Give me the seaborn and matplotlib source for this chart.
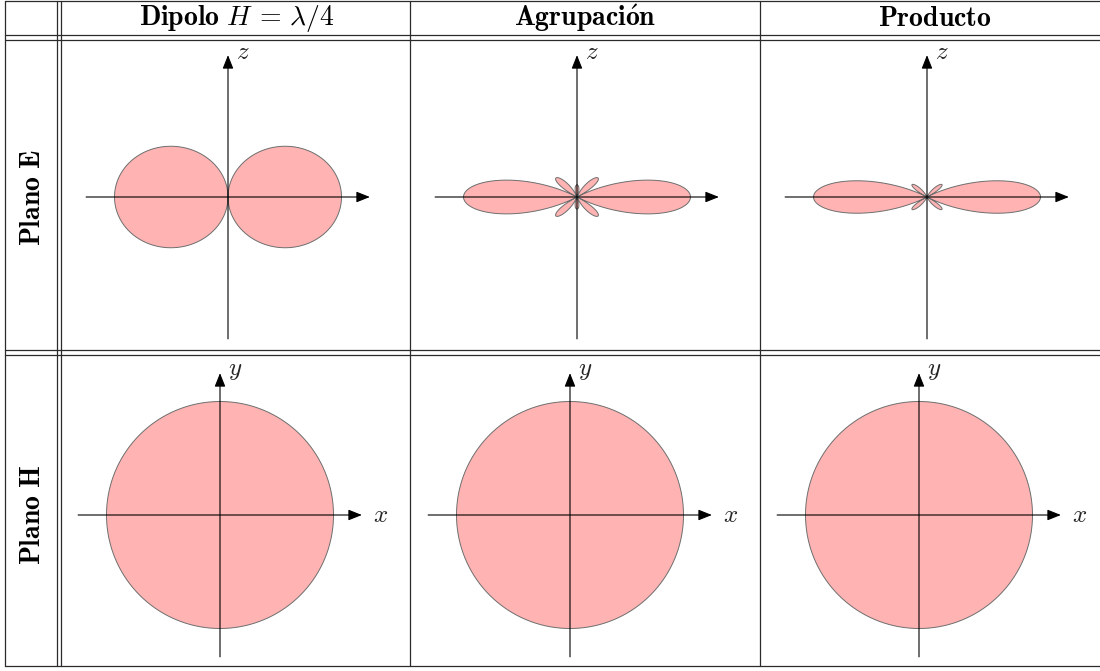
import numpy as np
import matplotlib
matplotlib.use("Agg")
import matplotlib.pyplot as plt
from matplotlib.lines import Line2D
import seaborn as sns

sns.set_theme(style="white")
plt.rcParams["mathtext.fontset"] = "cm"
plt.rcParams["font.family"] = ["DejaVu Serif"]

# ---- table content -------------------------------------------------------
COL_TITLES = [r"$\mathbf{Dipolo}\ H\,=\,\lambda/4$",
              r"$\mathbf{Agrupaci\acute{o}n}$",
              r"$\mathbf{Producto}$"]
ROW_TITLES = [r"$\mathbf{Plano\ E}$", r"$\mathbf{Plano\ H}$"]
# (horizontal axis name, vertical axis name) for each plane
AXIS_NAMES = [("", "z"), ("x", "y")]

# ---- antenna parameters --------------------------------------------------
DIPOLE_ARM = 0.25      # H / lambda
N_ELEMENTS = 5         # elements of the linear array along z
SPACING = 0.435        # d / lambda
ANGLES = np.linspace(0.0, 2.0 * np.pi, 2881)

FILL = "#ffb3b3"
EDGE = "#6e6e6e"
LINE = "#2b2b2b"


def dipole_factor(theta):
    kh = 2 * np.pi * DIPOLE_ARM
    s = np.sin(theta)
    num = np.cos(kh * np.cos(theta)) - np.cos(kh)
    with np.errstate(divide="ignore", invalid="ignore"):
        f = np.where(np.abs(s) < 1e-9, 0.0, num / s)
    return np.abs(f) / (1 - np.cos(kh))


def array_factor(theta):
    psi = 2 * np.pi * SPACING * np.cos(theta)
    den = N_ELEMENTS * np.sin(psi / 2)
    with np.errstate(divide="ignore", invalid="ignore"):
        af = np.where(np.abs(den) < 1e-12, 1.0, np.sin(N_ELEMENTS * psi / 2) / den)
    return np.abs(af)


PATTERNS = [dipole_factor,
            array_factor,
            lambda t: dipole_factor(t) * array_factor(t)]

# ---- figure / layout -----------------------------------------------------
W, H = 1100, 671
fig = plt.figure(figsize=(W / 100, H / 100), dpi=100)
UNIT_PX = 113.5          # pixels for a normalised field of 1
AX_REACH = 1.25          # reach of the drawn axes

COL_LINES = [5, 57, 61, 410, 760]
ROW_LINES = [1, 34.5, 40, 349.5, 354.5, 666]
CENTERS = [[(228, 197), (577, 197), (927, 197)],
           [(220, 515), (570, 515), (919, 515)]]
HEADER_X = [237, 585, 935]
ROW_LABEL_Y = [197, 515]


def px(x, y):
    return x / W, 1 - y / H


def hline(y, x0=5, x1=1100, lw=0.9, color=LINE):
    (a, b), (c, d) = px(x0, y), px(x1, y)
    fig.add_artist(Line2D([a, c], [b, d], lw=lw, color=color))


def vline(x, y0=1, y1=666, lw=0.9, color=LINE):
    (a, b), (c, d) = px(x, y0), px(x, y1)
    fig.add_artist(Line2D([a, c], [b, d], lw=lw, color=color))


for y in ROW_LINES:
    hline(y)
for x in COL_LINES:
    vline(x)

# headers and row labels
for x, t in zip(HEADER_X, COL_TITLES):
    fig.text(*px(x, 25.5), t, ha="center", va="baseline", fontsize=20, color="black")
for y, t in zip(ROW_LABEL_Y, ROW_TITLES):
    fig.text(*px(32, y), t, ha="center", va="center", rotation=90,
             fontsize=20, color="black")


def cell_axes(cx, cy, half=150):
    x0, y0 = px(cx - half, cy + half)
    ax = fig.add_axes([x0, y0, 2 * half / W, 2 * half / H])
    lim = half / UNIT_PX
    ax.set_xlim(-lim, lim)
    ax.set_ylim(-lim, lim)
    ax.axis("off")
    return ax


def draw_axes(ax, hname, vname):
    arrow = dict(arrowstyle="-|>,head_length=0.55,head_width=0.22",
                 mutation_scale=15, lw=0.8, color="black",
                 shrinkA=0, shrinkB=0)
    ax.annotate("", xy=(AX_REACH, 0), xytext=(-AX_REACH, 0),
                arrowprops=arrow, zorder=4)
    ax.annotate("", xy=(0, AX_REACH), xytext=(0, -AX_REACH),
                arrowprops=arrow, zorder=4)
    if hname:
        ax.text(AX_REACH + 0.1, 0.0, f"${hname}$", ha="left", va="center",
                fontsize=18, clip_on=False)
    if vname:
        ax.text(0.07, AX_REACH + 0.02, f"${vname}$", ha="left", va="center",
                fontsize=18, clip_on=False)


for r in range(2):
    for c in range(3):
        ax = cell_axes(*CENTERS[r][c])
        pattern = PATTERNS[c]
        if r == 0:
            # E plane: theta measured from the z axis
            rad = pattern(ANGLES)
            xs, ys = rad * np.sin(ANGLES), rad * np.cos(ANGLES)
        else:
            # H plane: theta = 90 deg, sweeping phi
            rad = pattern(np.full_like(ANGLES, np.pi / 2))
            xs, ys = rad * np.cos(ANGLES), rad * np.sin(ANGLES)
        ax.fill(xs, ys, color=FILL, lw=0, zorder=1)
        sns.lineplot(x=xs, y=ys, sort=False, estimator=None, color=EDGE,
                     lw=0.7, ax=ax, zorder=2)
        ax.axis("off")
        draw_axes(ax, *AXIS_NAMES[r])

fig.savefig("out.png", dpi=100)
